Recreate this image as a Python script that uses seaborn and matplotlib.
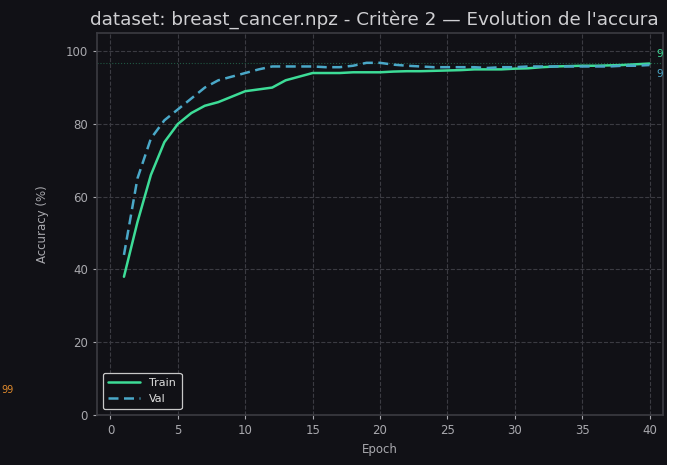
import numpy as np
import pandas as pd
import matplotlib
matplotlib.use("Agg")
import matplotlib.pyplot as plt
from matplotlib.patches import Rectangle
import seaborn as sns

epochs = list(range(1, 41))
train_acc = [38, 53, 66, 75, 80, 83, 85, 86, 87.5, 89, 89.5, 90, 92, 93, 94,
             94, 94, 94.2, 94.2, 94.2, 94.4, 94.5, 94.5, 94.6, 94.7, 94.8, 95, 95, 95, 95.2,
             95.3, 95.6, 95.8, 95.9, 96, 96, 96.1, 96.2, 96.4, 96.6]
val_acc = [44, 65, 76, 81, 84, 87, 90, 92, 93, 94, 95, 95.8, 95.8, 95.8, 95.8,
           95.6, 95.6, 96, 96.8, 96.8, 96.3, 96, 95.8, 95.6, 95.6, 95.6, 95.6, 95.4, 95.6, 95.6,
           95.8, 95.8, 95.8, 95.8, 95.8, 95.8, 95.8, 96, 96, 96.2]
series_names = ["Train", "Val"]
# only the visible part of the (cropped) title / side labels of the reference
title_text = "dataset: breast_cancer.npz - Critère 2 — Evolution de l'accura"
end_labels = ["9", "9"]
side_label = "99"
x_ticks = [0, 5, 10, 15, 20, 25, 30, 35, 40]
y_ticks = [0, 20, 40, 60, 80, 100]

BG = "#111116"
GRID = "#3b3b42"
TXT = "#a9a9ae"
C_TRAIN = "#3ddc97"
C_VAL = "#4aa8c8"

sns.set_theme(style="dark")
plt.rcParams["font.family"] = ["DejaVu Sans"]

df = pd.DataFrame({
    "Epoch": epochs * 2,
    "Accuracy": train_acc + val_acc,
    "Série": [series_names[0]] * len(epochs) + [series_names[1]] * len(epochs),
})

fig = plt.figure(figsize=(6.85, 4.65), dpi=100, facecolor=BG)
ax = fig.add_axes([97 / 685, 1 - 415 / 465, (663 - 97) / 685, (415 - 33) / 465])
ax.set_facecolor(BG)

sns.lineplot(data=df, x="Epoch", y="Accuracy", hue="Série", style="Série",
             palette={"Train": C_TRAIN, "Val": C_VAL},
             dashes={"Train": "", "Val": (4, 2.2)}, linewidth=1.8, ax=ax)

ax.axhline(max(val_acc), color=C_TRAIN, lw=0.8, ls=":", alpha=0.35, zorder=1)

ax.set_xlim(-1, 41)
ax.set_ylim(0, 105)
ax.set_xticks(x_ticks)
ax.set_yticks(y_ticks)
ax.grid(True, color=GRID, ls="--", lw=0.8)
ax.tick_params(colors=TXT, labelsize=8.5, length=3, width=0.8, direction="out",
               bottom=True, left=True)
for s in ax.spines.values():
    s.set_color("#3a3a40")
ax.set_xlabel("Epoch", color=TXT, fontsize=8.5, labelpad=4)
ax.set_ylabel("Accuracy (%)", color=TXT, fontsize=8.5, labelpad=12)

leg = ax.legend(loc="lower left", fontsize=8, facecolor=BG, edgecolor="#c8c8c8",
                framealpha=1, handlelength=2.9, borderpad=0.5)
for t in leg.get_texts():
    t.set_color("#dddddd")
leg.get_frame().set_linewidth(0.9)

ax.text(40.5, 99.2, end_labels[0], color=C_TRAIN, fontsize=7.5,
        va="center", ha="left", clip_on=False)
ax.text(40.5, 93.6, end_labels[1], color=C_VAL, fontsize=7.5,
        va="center", ha="left", clip_on=False)

fig.text(90 / 685, 1 - 20 / 465, title_text, color="#cfcfd2", fontsize=13.2,
         ha="left", va="center")
fig.text(1 / 685, 1 - 390 / 465, side_label, color="#e08a2c", fontsize=7,
         ha="left", va="center")

fig.add_artist(Rectangle((667 / 685, 0), 1, 1, transform=fig.transFigure,
                         facecolor="white", edgecolor="none", zorder=100))

fig.savefig("out.png", dpi=100, facecolor=BG)
